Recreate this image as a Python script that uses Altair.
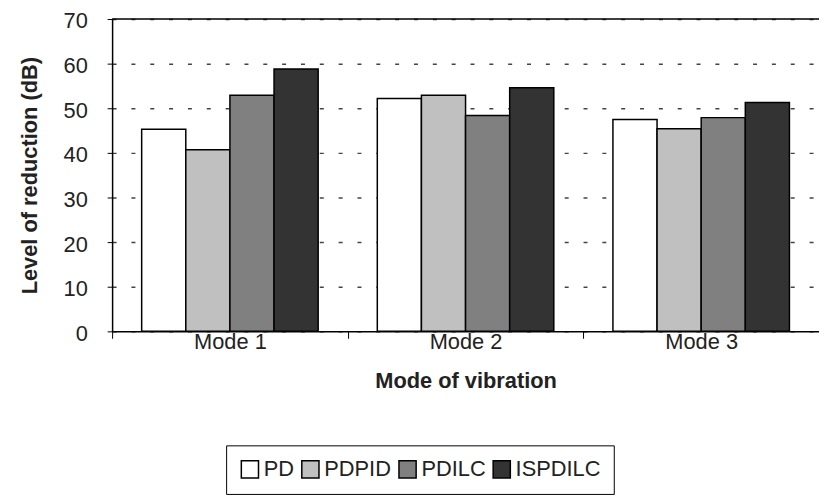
import altair as alt
import pandas as pd

modes = ["Mode 1", "Mode 2", "Mode 3"]
controllers = ["PD", "PDPID", "PDILC", "ISPDILC"]
pd_vals = [45.3, 52.2, 47.5]
pdpid_vals = [40.7, 52.9, 45.4]
pdilc_vals = [52.9, 48.4, 47.9]
ispdilc_vals = [58.8, 54.6, 51.3]
bar_colors = ["#ffffff", "#c0c0c0", "#808080", "#333333"]
y_ticks = [0, 10, 20, 30, 40, 50, 60, 70]

series = {"PD": pd_vals, "PDPID": pdpid_vals, "PDILC": pdilc_vals, "ISPDILC": ispdilc_vals}
rows = []
for c in controllers:
    for m, v in zip(modes, series[c]):
        rows.append({"Mode": m, "Controller": c, "Value": v})
df = pd.DataFrame(rows)

FONT = "Liberation Sans"
FS = 22

bars = alt.Chart(df).mark_bar(stroke="black", strokeWidth=1.5).encode(
    x=alt.X(
        "Mode:N",
        sort=modes,
        scale=alt.Scale(paddingInner=0, paddingOuter=0),
        axis=alt.Axis(
            title="Mode of vibration",
            labelAngle=0,
            tickBand="extent",
            tickSize=7,
            tickColor="black",
            domainColor="black",
            domainWidth=1.5,
            labelFontSize=FS,
            labelPadding=-7,
            titleFontSize=FS,
            titleFontWeight="bold",
            titlePadding=19,
            grid=False,
        ),
    ),
    xOffset=alt.XOffset("Controller:N", sort=controllers,
                        scale=alt.Scale(paddingInner=0, paddingOuter=0.67)),
    y=alt.Y(
        "Value:Q",
        scale=alt.Scale(domain=[0, 70]),
        axis=alt.Axis(
            title="Level of reduction (dB)",
            values=y_ticks,
            tickSize=5,
            tickColor="black",
            domainColor="black",
            domainWidth=1.5,
            labelFontSize=FS,
            labelPadding=20,
            labelOffset=2,
            titleFontSize=FS,
            titleFontWeight="bold",
            titlePadding=22,
            grid=True,
            gridDash=[4, 15],
            gridColor="#444444",
            gridWidth=1.5,
        ),
    ),
    fill=alt.Fill(
        "Controller:N",
        sort=controllers,
        scale=alt.Scale(domain=controllers, range=bar_colors),
        legend=alt.Legend(
            title=None,
            orient="none",
            legendX=115,
            legendY=430,
            direction="horizontal",
            columns=4,
            symbolType="square",
            symbolSize=300,
            symbolStrokeColor="black",
            symbolStrokeWidth=1.5,
            labelFontSize=FS,
            labelOffset=3,
            columnPadding=4,
            padding=13,
            strokeColor="black",
            fillColor="white",
        ),
    ),
)

top_line = alt.Chart(pd.DataFrame({"y": [70]})).mark_rule(color="black", strokeWidth=1.5).encode(
    y=alt.Y("y:Q")
)

chart = alt.layer(bars, top_line).properties(
    width=713,
    height=315,
    padding={"left": 105, "top": 9, "right": 0, "bottom": 168},
    autosize=alt.AutoSizeParams(type="none"),
).configure(
    font=FONT,
).configure_view(
    stroke=None
).configure_axis(
    labelColor="#222222",
    titleColor="#222222",
).configure_legend(
    labelColor="#222222",
)

chart.save("out.html", embed_options={"renderer": "svg", "actions": False})
